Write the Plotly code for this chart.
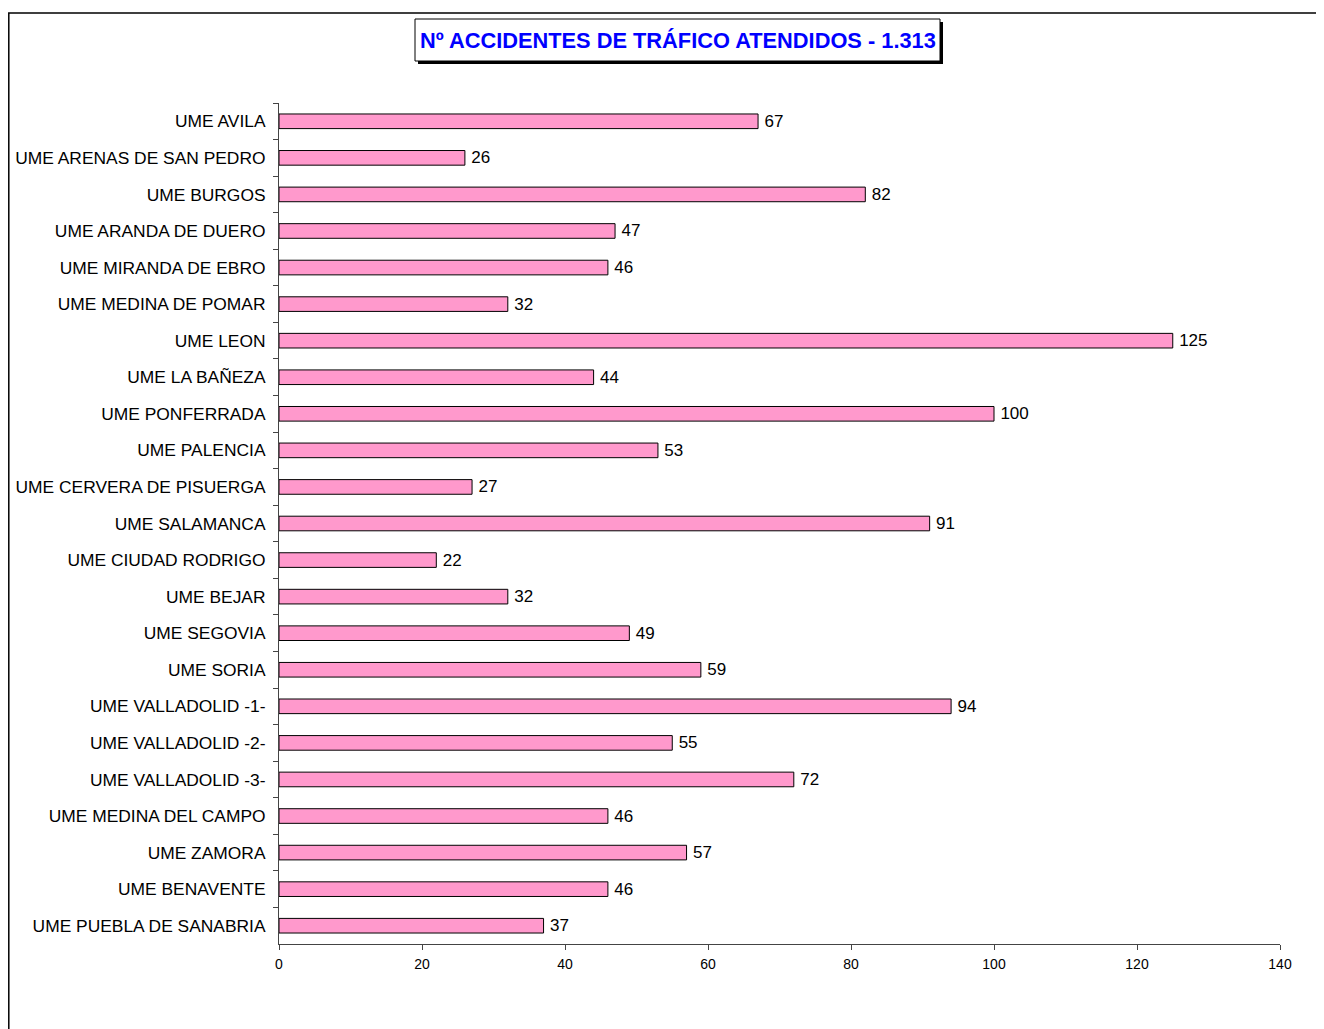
import plotly.graph_objs as go

# Datos del gráfico
unidades = ["UME AVILA", "UME ARENAS DE SAN PEDRO", "UME BURGOS", "UME ARANDA DE DUERO",
            "UME MIRANDA DE EBRO", "UME MEDINA DE POMAR", "UME LEON", "UME LA BAÑEZA",
            "UME PONFERRADA", "UME PALENCIA", "UME CERVERA DE PISUERGA", "UME SALAMANCA",
            "UME CIUDAD RODRIGO", "UME BEJAR", "UME SEGOVIA", "UME SORIA",
            "UME VALLADOLID -1-", "UME VALLADOLID -2-", "UME VALLADOLID -3-",
            "UME MEDINA DEL CAMPO", "UME ZAMORA", "UME BENAVENTE", "UME PUEBLA DE SANABRIA"]
accidentes = [67, 26, 82, 47, 46, 32, 125, 44, 100, 53, 27, 91, 22, 32, 49, 59,
              94, 55, 72, 46, 57, 46, 37]
x_ticks = [0, 20, 40, 60, 80, 100, 120, 140]
titulo = "Nº ACCIDENTES DE TRÁFICO ATENDIDOS - 1.313"

W, H = 1324, 1029
OFF = 8  # margen de la página
L, R, T, B = 279 - OFF, 1280 - OFF, 103 - OFF, 944 - OFF  # área de trazado en píxeles


def px(x):
    return (x - OFF - L) / (R - L)


def py(y):
    return (B - (y - OFF)) / (B - T)


fig = go.Figure()
fig.add_trace(go.Bar(
    x=accidentes, y=unidades, orientation="h",
    marker=dict(color="#FF99CC", line=dict(color="black", width=1)),
    texttemplate="\u2009%{x}", textposition="outside", cliponaxis=False, constraintext="none",
    textfont=dict(size=17, color="black", family="Arial, Liberation Sans"),
))

# Marco exterior
fig.add_shape(type="rect", xref="paper", yref="paper",
              x0=px(8.8), x1=px(1340), y0=py(1045), y1=py(13),
              line=dict(color="black", width=1.5), fillcolor="rgba(0,0,0,0)", layer="below")
# Caja del título con sombra
fig.add_shape(type="rect", xref="paper", yref="paper",
              x0=px(418), x1=px(943), y0=py(64), y1=py(22),
              line=dict(width=0), fillcolor="black")
fig.add_shape(type="rect", xref="paper", yref="paper",
              x0=px(415), x1=px(940), y0=py(61), y1=py(19),
              line=dict(color="black", width=1), fillcolor="white")
fig.add_annotation(x=px(677.5), y=py(40), xref="paper", yref="paper",
                   xanchor="center", yanchor="middle",
                   text="<b>" + titulo + "</b>", showarrow=False,
                   font=dict(size=21.8, color="#0000FF", family="Arial, Liberation Sans"))

fig.update_layout(
    width=W, height=H,
    margin=dict(l=L, r=W - R, t=T, b=H - B),
    paper_bgcolor="white", plot_bgcolor="white",
    bargap=0.6, showlegend=False,
    font=dict(family="Arial, Liberation Sans", color="black"),
    xaxis=dict(range=[0, 140], tickvals=x_ticks, showgrid=False, zeroline=False,
               showline=True, linecolor="#444", linewidth=1, automargin=False,
               ticks="outside", ticklen=5, tickcolor="#444", ticklabelstandoff=2,
               tickfont=dict(size=14, color="black")),
    yaxis=dict(categoryorder="array", categoryarray=unidades, autorange="reversed",
               showgrid=False, zeroline=False, showline=True, linecolor="#444", linewidth=1,
               automargin=False,
               ticks="outside", ticklen=5, tickcolor="#444", tickson="boundaries",
               ticklabelstandoff=9,
               tickfont=dict(size=17.4, color="black")),
)

fig.write_html("out.html")
